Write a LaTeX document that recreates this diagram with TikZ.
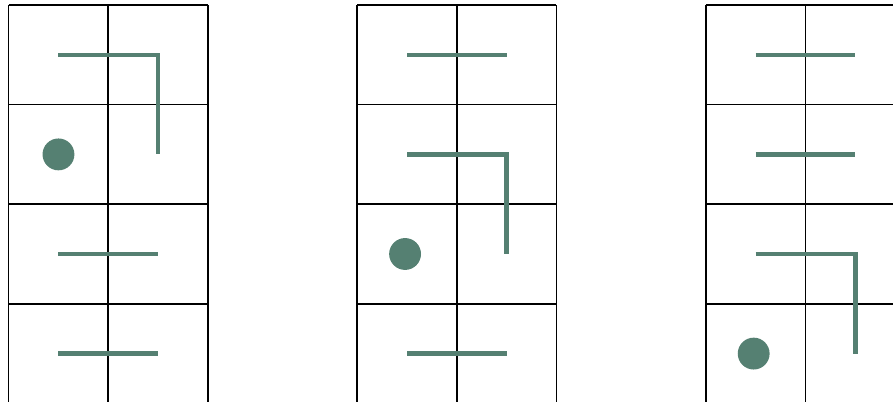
\documentclass[tikz,border=0pt]{standalone}
\usetikzlibrary{positioning}
\definecolor{pathGreen}{HTML}{558072}
\tikzset{
  cellgrid/.style={black, line width=0.45pt},
  wall/.style={pathGreen, line width=1.3pt, line join=miter},
  ball/.style={circle, fill=pathGreen, inner sep=0pt, minimum size=0.32cm},
}

\begin{document}
\begin{tikzpicture}
  \useasboundingbox (0,0.014) rectangle (8.966,4.05);

  % board 1
  \begin{scope}[xshift=0.087cm]
    \draw[cellgrid] (0,0) grid (2,4);
    \draw[wall] (0.5,3.5) -| (1.5,2.5);
    \draw[wall] (0.5,1.5) -- (1.5,1.5);
    \draw[wall] (0.5,0.5) -- (1.5,0.5);
    \node[ball] (ball1) at (0.5,2.5) {};
  \end{scope}

  % board 2
  \begin{scope}[xshift=3.587cm]
    \draw[cellgrid] (0,0) grid (2,4);
    \draw[wall] (0.5,3.5) -- (1.5,3.5);
    \draw[wall] (0.5,2.5) -| (1.5,1.5);
    \draw[wall] (0.5,0.5) -- (1.5,0.5);
    \node[ball] (ball2) at (0.48,1.5) {};
  \end{scope}

  % board 3
  \begin{scope}[xshift=7.087cm]
    \draw[cellgrid] (0,0) grid (2,4);
    \draw[wall] (0.5,3.5) -- (1.5,3.5);
    \draw[wall] (0.5,2.5) -- (1.5,2.5);
    \draw[wall] (0.5,1.5) -| (1.5,0.5);
    \node[ball] (ball3) at (0.48,0.5) {};
  \end{scope}
\end{tikzpicture}
\end{document}
